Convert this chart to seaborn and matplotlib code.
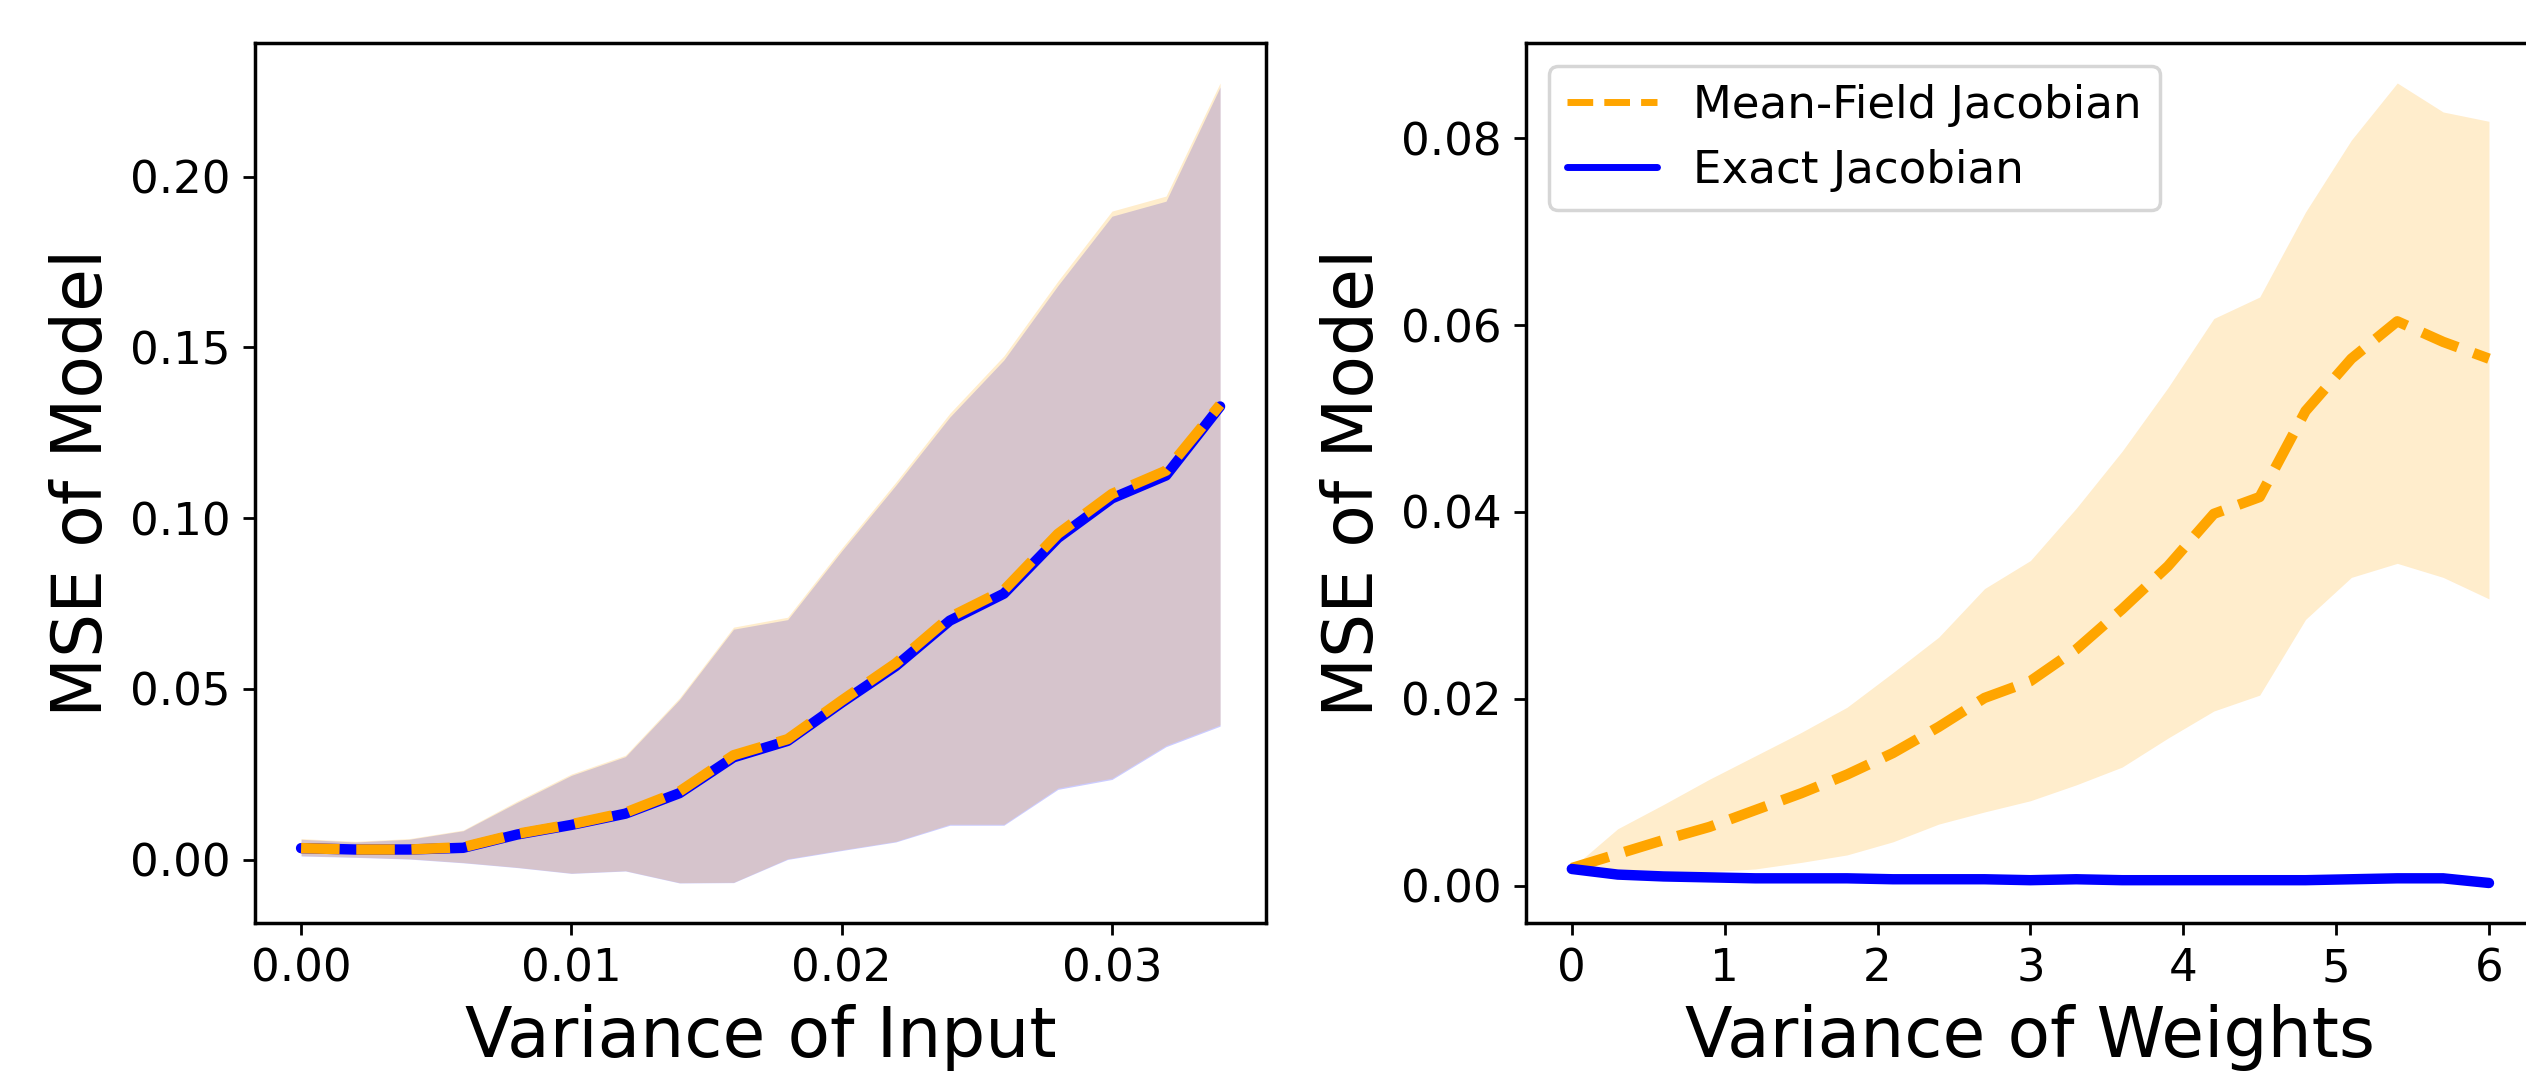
import numpy as np
import matplotlib
matplotlib.use("Agg")
import matplotlib.pyplot as plt
from matplotlib.lines import Line2D
import seaborn as sns

# ---------------- data ----------------
left_x = [0.000, 0.002, 0.004, 0.006, 0.008, 0.010, 0.012, 0.014, 0.016,
          0.018, 0.020, 0.022, 0.024, 0.026, 0.028, 0.030, 0.032, 0.034]
left_mf_mean = [0.0034, 0.0030, 0.0030, 0.0037, 0.0076, 0.0104, 0.0138, 0.0200, 0.0306,
                0.0353, 0.0466, 0.0575, 0.0710, 0.0789, 0.0954, 0.1071, 0.1139, 0.1332]
left_mf_upper = [0.0062, 0.0054, 0.0062, 0.0087, 0.0172, 0.0251, 0.0306, 0.0474, 0.0681,
                 0.0710, 0.0912, 0.1105, 0.1307, 0.1475, 0.1694, 0.1899, 0.1943, 0.2274]
left_mf_lower = [0.0012, 0.0008, 0.0003, -0.0008, -0.0022, -0.0039, -0.0032, -0.0067, -0.0066,
                 0.0003, 0.0029, 0.0054, 0.0104, 0.0104, 0.0210, 0.0239, 0.0335, 0.0395]
left_ex_mean = [0.0034, 0.0030, 0.0030, 0.0035, 0.0074, 0.0102, 0.0135, 0.0195, 0.0300,
                0.0348, 0.0460, 0.0567, 0.0700, 0.0779, 0.0942, 0.1058, 0.1125, 0.1327]
left_ex_upper = [0.0060, 0.0052, 0.0060, 0.0085, 0.0168, 0.0247, 0.0302, 0.0469, 0.0675,
                 0.0703, 0.0904, 0.1096, 0.1296, 0.1463, 0.1681, 0.1884, 0.1928, 0.2262]
left_ex_lower = [0.0011, 0.0007, 0.0002, -0.0009, -0.0023, -0.0040, -0.0033, -0.0068, -0.0067,
                 0.0001, 0.0027, 0.0052, 0.0101, 0.0101, 0.0206, 0.0235, 0.0331, 0.0391]

right_x = [0.0, 0.3, 0.6, 0.9, 1.2, 1.5, 1.8, 2.1, 2.4, 2.7, 3.0,
           3.3, 3.6, 3.9, 4.2, 4.5, 4.8, 5.1, 5.4, 5.7, 6.0]
right_mf_mean = [0.0019, 0.0034, 0.0049, 0.0063, 0.0081, 0.0099, 0.0119, 0.0142, 0.0170, 0.0201, 0.0219,
                 0.0253, 0.0296, 0.0342, 0.0398, 0.0416, 0.0508, 0.0564, 0.0604, 0.0582, 0.0564]
right_mf_upper = [0.0019, 0.0061, 0.0087, 0.0114, 0.0139, 0.0164, 0.0191, 0.0228, 0.0266, 0.0318, 0.0348,
                  0.0404, 0.0465, 0.0533, 0.0607, 0.0630, 0.0721, 0.0798, 0.0859, 0.0828, 0.0818]
right_mf_lower = [0.0019, 0.0015, 0.0014, 0.0015, 0.0018, 0.0025, 0.0033, 0.0047, 0.0066, 0.0079, 0.0091,
                  0.0108, 0.0127, 0.0158, 0.0187, 0.0204, 0.0285, 0.0330, 0.0345, 0.0330, 0.0307]
right_ex_mean = [0.0018, 0.0012, 0.0010, 0.0009, 0.0008, 0.0008, 0.0008, 0.0007, 0.0007, 0.0007, 0.0006,
                 0.0007, 0.0006, 0.0006, 0.0006, 0.0006, 0.0006, 0.0007, 0.0008, 0.0008, 0.0003]

left_xticks = [0.00, 0.01, 0.02, 0.03]
left_yticks = [0.00, 0.05, 0.10, 0.15, 0.20]
right_xticks = [0, 1, 2, 3, 4, 5, 6]
right_yticks = [0.00, 0.02, 0.04, 0.06, 0.08]

labels = ["Mean-Field Jacobian", "Exact Jacobian"]

# ---------------- style ----------------
sns.set_style("white")
plt.rcParams.update({
    "font.family": ["DejaVu Sans"],
    "text.color": "black",
    "axes.labelcolor": "black",
    "axes.edgecolor": "black",
    "axes.linewidth": 1.0,
    "xtick.bottom": True,
    "ytick.left": True,
    "xtick.direction": "out",
    "ytick.direction": "out",
    "xtick.major.size": 3.5,
    "ytick.major.size": 3.5,
    "xtick.color": "black",
    "ytick.color": "black",
    "xtick.labelsize": 13,
    "ytick.labelsize": 13,
    "axes.labelsize": 20,
})

DPI = 250
fig = plt.figure(figsize=(2526 / DPI, 1072 / DPI), dpi=DPI)
ax1 = fig.add_axes([0.1010, 0.1390, 0.4002, 0.8209])
ax2 = fig.add_axes([0.6041, 0.1390, 0.3994, 0.8209])

LW = 3.0

# left panel
ax1.fill_between(left_x, left_ex_lower, left_ex_upper, color="blue", alpha=0.2, linewidth=0, zorder=1)
ax1.fill_between(left_x, left_mf_lower, left_mf_upper, color="orange", alpha=0.2, linewidth=0, zorder=1)
sns.lineplot(x=left_x, y=left_ex_mean, ax=ax1, color="blue", linewidth=LW, zorder=3)
sns.lineplot(x=left_x, y=left_mf_mean, ax=ax1, color="orange", linewidth=LW, linestyle="--", zorder=4)
ax1.set_xticks(left_xticks)
ax1.set_yticks(left_yticks)
ax1.xaxis.set_major_formatter(matplotlib.ticker.FormatStrFormatter("%.2f"))
ax1.yaxis.set_major_formatter(matplotlib.ticker.FormatStrFormatter("%.2f"))
ax1.set_xlabel("Variance of Input", color="black")
ax1.set_ylabel("MSE of Model", color="black")

# right panel
ax2.fill_between(right_x, right_mf_lower, right_mf_upper, color="orange", alpha=0.2, linewidth=0, zorder=1)
sns.lineplot(x=right_x, y=right_mf_mean, ax=ax2, color="orange", linewidth=LW, linestyle="--", zorder=3)
sns.lineplot(x=right_x, y=right_ex_mean, ax=ax2, color="blue", linewidth=LW, zorder=4)
ax2.set_xticks(right_xticks)
ax2.set_yticks(right_yticks)
ax2.yaxis.set_major_formatter(matplotlib.ticker.FormatStrFormatter("%.2f"))
ax2.set_xlabel("Variance of Weights", color="black")
ax2.set_ylabel("MSE of Model", color="black")
handles = [Line2D([], [], color="orange", linestyle="--", linewidth=2),
           Line2D([], [], color="blue", linestyle="-", linewidth=2)]
leg = ax2.legend(handles=handles, labels=labels, loc="upper left", fontsize=13, frameon=True,
                 fancybox=True, framealpha=0.8, edgecolor="0.8")
for t in leg.get_texts():
    t.set_color("black")

for ax in (ax1, ax2):
    ax.margins(x=0.05, y=0.05)
    for s in ax.spines.values():
        s.set_visible(True)
        s.set_color("black")

fig.savefig("out.png", dpi=DPI)
